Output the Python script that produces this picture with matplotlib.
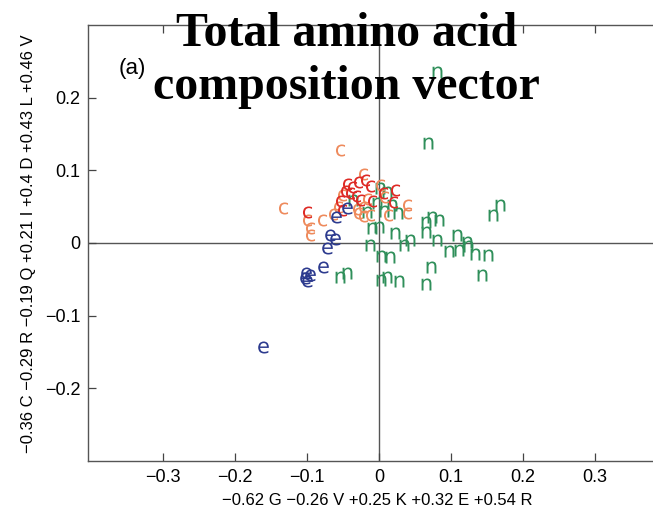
import matplotlib
matplotlib.use("Agg")
import matplotlib.pyplot as plt

# class 'c' (two shades), class 'e', class 'n' -- x / y projections
c_orange_x = [-0.054, -0.133, -0.100, -0.096, -0.096, -0.079, -0.064, -0.022, -0.051,
              -0.057, -0.017, -0.022, -0.031, -0.029, -0.022, -0.013, 0.001, 0.007,
              0.039, 0.039, 0.013]
c_orange_y = [0.128, 0.048, 0.032, 0.021, 0.011, 0.032, 0.040, 0.095, 0.066,
              0.050, 0.061, 0.050, 0.047, 0.041, 0.037, 0.039, 0.080, 0.063,
              0.052, 0.041, 0.039]
c_red_x = [-0.100, -0.019, -0.029, -0.044, -0.038, -0.047, -0.040, -0.054, -0.032,
           -0.026, -0.010, 0.006, 0.022, 0.019, -0.013, -0.051]
c_red_y = [0.043, 0.087, 0.084, 0.081, 0.077, 0.072, 0.069, 0.058, 0.065,
           0.059, 0.058, 0.069, 0.073, 0.056, 0.078, 0.045]

e_x = [-0.060, -0.044, -0.068, -0.061, -0.072, -0.078, -0.101, -0.096, -0.100, -0.103, -0.161]
e_y = [0.036, 0.048, 0.011, 0.006, -0.007, -0.033, -0.041, -0.044, -0.052, -0.048, -0.143]

n_x = [0.081, 0.068, 0.168, 0.158, 0.074, 0.083, 0.065, 0.065, 0.022, -0.010,
       0.000, -0.013, 0.043, 0.035, 0.081, 0.108, 0.122, 0.124, 0.097, 0.111,
       0.133, 0.151, 0.003, 0.015, 0.072, 0.143, 0.003, 0.011, 0.028, 0.065,
       -0.044, -0.054, 0.001, 0.011, -0.036, -0.003, -0.017, 0.018, 0.026, 0.007]
n_y = [0.235, 0.138, 0.052, 0.039, 0.036, 0.032, 0.029, 0.015, 0.014, 0.021,
       0.022, -0.003, 0.004, -0.003, 0.004, 0.011, 0.001, -0.004, -0.011, -0.010,
       -0.015, -0.017, -0.018, -0.019, -0.033, -0.044, -0.051, -0.047, -0.052, -0.056,
       -0.041, -0.047, 0.076, 0.070, 0.059, 0.055, 0.043, 0.052, 0.041, 0.044]

xticks = [-0.3, -0.2, -0.1, 0, 0.1, 0.2, 0.3]
xticklabels = ["\u22120.3", "\u22120.2", "\u22120.1", "0", "0.1", "0.2", "0.3"]
yticks = [-0.2, -0.1, 0, 0.1, 0.2]
yticklabels = ["\u22120.2", "\u22120.1", "0", "0.1", "0.2"]

xlabel = "\u22120.62 G \u22120.26 V +0.25 K +0.32 E +0.54 R"
ylabel = "\u22120.36 C \u22120.29 R \u22120.19 Q +0.21 I +0.4 D +0.43 L +0.46 V"

plt.rcParams['font.family'] = ['Liberation Sans', 'DejaVu Sans']

fig = plt.figure(figsize=(6.53, 5.16), dpi=100)
ax = fig.add_axes([0.1355, 0.1066, 0.886, 0.845])

ax.axhline(0, color='#555555', lw=1.0, zorder=1)
ax.axvline(0, color='#555555', lw=1.0, zorder=1)

ax.scatter(n_x, n_y, marker=r'$\mathsf{n}$', s=75, color='#2f8f5a', linewidths=0, zorder=2)
ax.scatter(c_orange_x, c_orange_y, marker=r'$\mathsf{c}$', s=75, color='#ee8a5c', linewidths=0, zorder=3)
ax.scatter(c_red_x, c_red_y, marker=r'$\mathsf{c}$', s=75, color='#de2a25', linewidths=0, zorder=3)
ax.scatter(e_x, e_y, marker=r'$\mathsf{e}$', s=75, color='#2c3a8e', linewidths=0, zorder=4)

ax.set_xlim(-0.4035, 0.40)
ax.set_ylim(-0.3, 0.3)
ax.set_xticks(xticks)
ax.set_xticklabels(xticklabels)
ax.set_yticks(yticks)
ax.set_yticklabels(yticklabels)
ax.tick_params(direction='in', length=6, width=0.9, color='#444444',
               top=True, right=True, labelsize=13, pad=6)
for sp in ax.spines.values():
    sp.set_color('#555555')
    sp.set_linewidth(1.0)

fig.text(0.577, 0.031, xlabel, ha='center', va='center', fontsize=12)
fig.text(0.043, 0.527, ylabel, ha='center', va='center', rotation=90, fontsize=12)
ax.text(0.075, 0.9, "(a)", transform=ax.transAxes, ha='center', va='center', fontsize=16)

# va='baseline' anchors the last line of a multi-line text
fig.text(0.530, 1 - 99 / 516, "Total amino acid\ncomposition vector", ha='center',
         va='baseline', fontsize=34.5, fontweight='bold', linespacing=1.27,
         family=['Liberation Serif', 'DejaVu Serif'])

fig.savefig("out.png", dpi=100)
